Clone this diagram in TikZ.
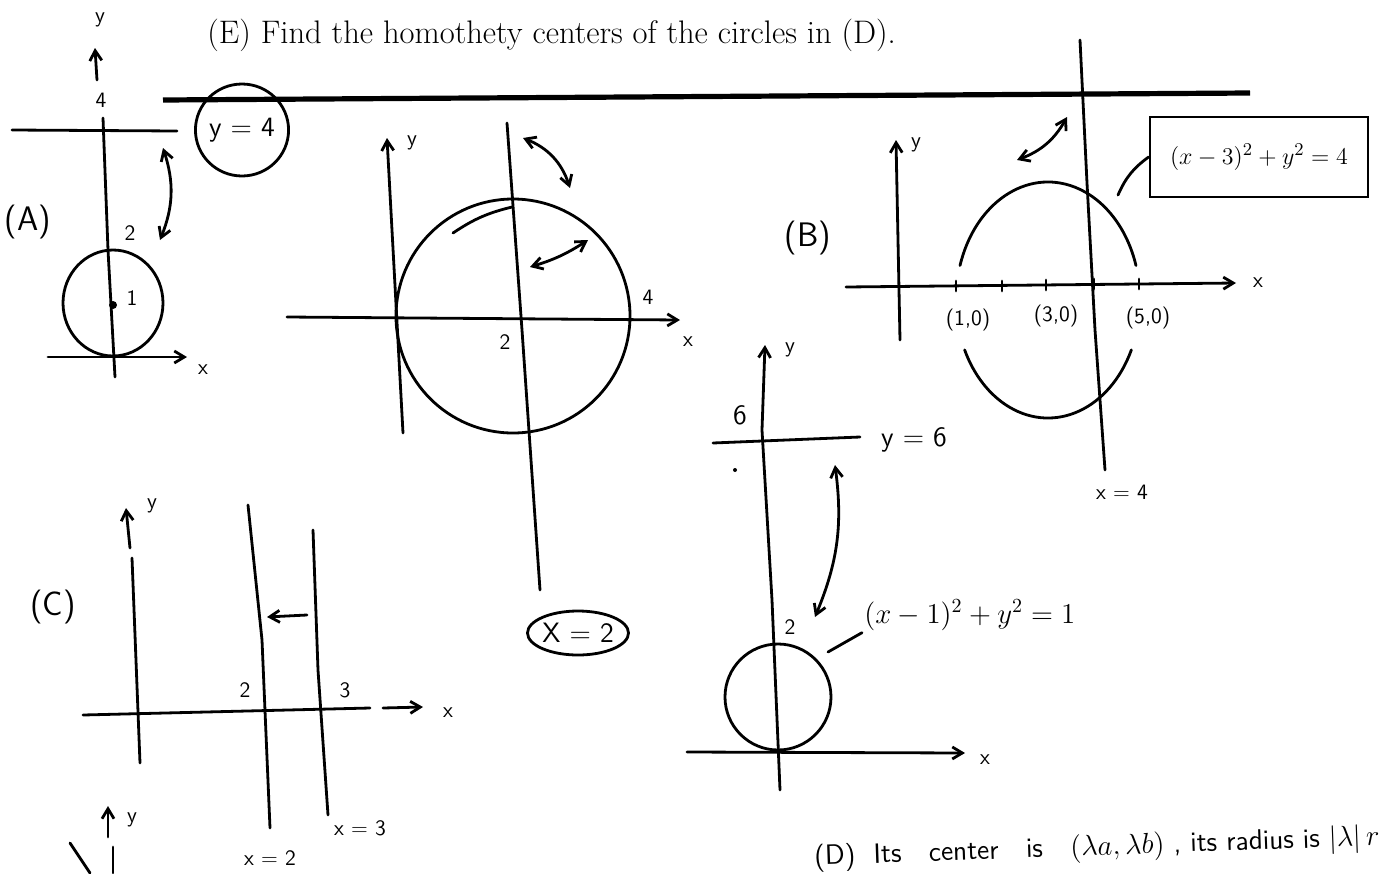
\documentclass[tikz,border=0pt]{standalone}
\usepackage{amsmath}
\usetikzlibrary{arrows.meta,positioning,shapes.geometric}

\begin{document}
\begin{tikzpicture}[x=0.5pt,y=-0.5pt,
  pen/.style={line width=1.4pt,line cap=round,line join=round},
  axis/.style={pen,-{Straight Barb[length=5pt,width=6pt]}},
  twoway/.style={pen,{Straight Barb[length=5pt,width=6pt]}-{Straight Barb[length=5pt,width=6pt]}},
  printed/.style={font=\fontsize{16.3}{19}\selectfont,inner sep=0pt},
  tag/.style={font=\sffamily\fontsize{17}{19}\selectfont,inner sep=1pt},
  hand/.style={font=\sffamily\fontsize{14}{16}\selectfont,inner sep=1pt},
  small/.style={font=\sffamily\fontsize{11}{12}\selectfont,inner sep=1pt},
  circled/.style={hand,draw,ellipse,line width=1.4pt,inner sep=0pt}
]
  \useasboundingbox (0,0) rectangle (1387,873);
  % Task line and rule
  \node[printed,anchor=west] (taskE) at (207,35) {(E) Find the homothety centers of the circles in (D).};
  \draw[line width=2.6pt] (163,100) -- (1250,93);
  % (A)
  \node[tag] (labA) at (28,222) {(A)};
  \node[small] (yA) at (100,20) {y};
  \draw[axis] (97,80) -- (95,48);
  \node[small] (fourA) at (101,100) {4};
  \draw[pen] (103,118) -- (108,250) -- (115,377);
  \draw[pen] (12,130) -- (177,131);
  \draw[pen] (113,303) ellipse [x radius=50,y radius=53];
  \fill (113,305) circle (4);
  \node[small] (oneA) at (132,298) {1};
  \node[small] (twoA) at (130,233) {2};
  \draw[axis] (48,357) -- (187,357);
  \node[small] (xA) at (203,370) {x};
  \draw[twoway] (163,148) to[bend left=20] (160,240);
  \node[circled,minimum width=45pt,minimum height=46pt] (eqA) at (242,130) {y = 4};
  % middle circle
  \draw[axis] (403,433) -- (387,138);
  \node[small] (yM) at (412,143) {y};
  \draw[axis] (287,317) -- (680,320);
  \node[small] (xM) at (688,342) {x};
  \draw[pen] (513,316) circle [radius=117];
  \draw[pen] (507,123) -- (522,330) -- (540,590);
  \node[small] (twoM) at (505,342) {2};
  \node[small] (fourM) at (648,297) {4};
  \draw[twoway] (523,138) to[bend left=25] (570,188);
  \draw[pen] (453,233) to[bend left=10] (512,207);
  \draw[twoway] (530,267) to[bend right=8] (588,240);
  \node[circled,minimum width=37pt,minimum height=22pt] (eqM) at (578,633) {X = 2};
  % (B)
  \node[tag] (labB) at (808,238) {(B)};
  \draw[axis] (900,340) -- (896,140);
  \node[small] (yB) at (916,145) {y};
  \draw[axis] (846,287) -- (1236,283);
  \node[small] (xB) at (1258,283) {x};
  \foreach \tx/\ty in {956/286,1002/286,1046/285,1094/284,1139/284}
    \draw[pen] (\tx,\ty-5) -- (\tx,\ty+5);
  \node[small] (p1) at (968,320) {(1,0)};
  \node[small] (p3) at (1056,316) {(3,0)};
  \node[small] (p5) at (1148,318) {(5,0)};
  \draw[pen] (1048,300) ++(197:92 and 118) arc[start angle=197,end angle=343,x radius=92,y radius=118];
  \draw[pen] (1048,300) ++(25:92 and 118) arc[start angle=25,end angle=155,x radius=92,y radius=118];
  \draw[pen] (1080,40) -- (1087,183) -- (1095,330) -- (1105,470);
  \node[small] (eqB4) at (1122,492) {x = 4};
  \draw[twoway] (1017,160) to[bend right=20] (1067,117);
  \node[hand,font=\sffamily\fontsize{13}{15}\selectfont,draw,line width=1.4pt,minimum width=109pt,minimum height=40pt] (eqB) at (1259,157) {$(x-3)^2+y^2=4$};
  \coordinate (ringB) at (1118,195);
  \draw[pen] (ringB) to[bend left=15] (eqB.west);
  % (C)
  \node[tag] (labC) at (53,607) {(C)};
  \draw[axis] (130,548) -- (126,508);
  \node[small] (yC) at (152,506) {y};
  \draw[pen] (132,558) -- (140,763);
  \draw[pen] (83,715) -- (370,708);
  \draw[axis] (383,708) -- (423,707);
  \node[small] (xC) at (448,713) {x};
  \draw[pen] (248,505) -- (262,640) -- (270,828);
  \draw[pen] (313,530) -- (318,670) -- (328,815);
  \node[small] (twoC) at (245,690) {2};
  \node[small] (threeC) at (345,690) {3};
  \draw[axis] (307,615) -- (267,617);
  \node[small] (eqC3) at (360,828) {x = 3};
  \node[small] (eqC2) at (270,858) {x = 2};
  % start of (D) axes, cut off
  \draw[axis] (108,837) -- (108,806);
  \node[small] (yD0) at (132,820) {y};
  \draw[pen] (113,847) -- (113,873);
  \draw[pen] (70,843) -- (90,873);
  % (D)
  \draw[axis] (780,790) -- (772,600) -- (762,430) -- (765,345);
  \node[small] (yD) at (790,350) {y};
  \node[hand] (sixD) at (740,415) {6};
  \draw[pen] (713,443) -- (860,437);
  \node[hand] (eqD6) at (914,440) {y = 6};
  \fill (735,470) circle (2);
  \draw[twoway] (835,465) to[bend left=15] (815,617);
  \node[small] (twoD) at (790,627) {2};
  \draw[pen] (778,697) circle [radius=53];
  \node[hand,anchor=west] (eqD) at (862,615) {$(x-1)^2+y^2=1$};
  \coordinate (ringD) at (828,652);
  \draw[pen] (ringD) -- (eqD.south west);
  \draw[axis] (687,752) -- (965,753);
  \node[small] (xD) at (985,760) {x};
  \node[hand,anchor=west,rotate=2] (noteD) at (812,858) {(D)\ \ Its\ \ \ center\ \ \ is\ \ \ $(\lambda a,\lambda b)$\ ,\ its\ radius\ is\ $|\lambda|\,r$};
\end{tikzpicture}
\end{document}
